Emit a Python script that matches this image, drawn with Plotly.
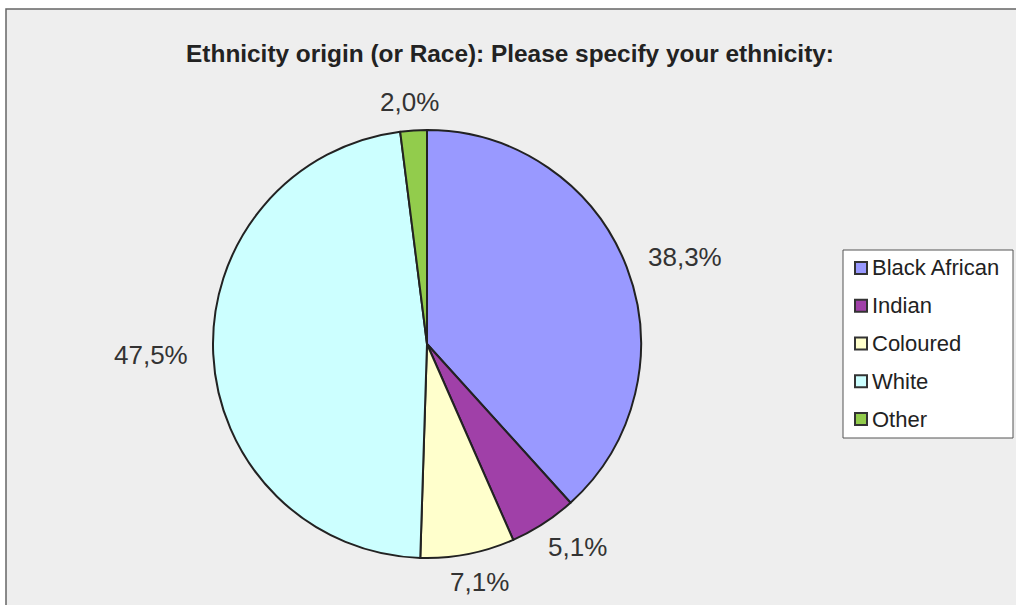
import math
import plotly.graph_objects as go

labels = ["Black African", "Indian", "Coloured", "White", "Other"]
values = [38.3, 5.1, 7.1, 47.5, 2.0]
value_text = ["38,3%", "5,1%", "7,1%", "47,5%", "2,0%"]
colors = ["#9999FF", "#A040A8", "#FFFFCC", "#CCFFFF", "#92CC4C"]
title_text = "Ethnicity origin (or Race): Please specify your ethnicity:"

W, H = 1016, 605
cx, cy, r = 427, 344, 214  # pie placement in pixels
FONT = "Liberation Sans, Arial, sans-serif"


def px(x):
    return x / W


def py(y):
    return 1 - y / H


fig = go.Figure()
fig.add_trace(go.Pie(
    labels=labels, values=values, sort=False, direction="clockwise",
    rotation=0, textinfo="none", hoverinfo="label+percent",
    marker=dict(colors=colors, line=dict(color="#222222", width=2)),
    domain=dict(x=[px(cx - r), px(cx + r)], y=[py(cy + r), py(cy - r)]),
    showlegend=False,
))

shapes = [
    dict(type="rect", xref="paper", yref="paper", x0=px(6), x1=px(W + 20),
         y0=py(9), y1=py(H + 20), fillcolor="#EEEEEE",
         line=dict(color="#666666", width=1.5), layer="below"),
]
annotations = []

# data labels derived from slice angles
total = sum(values)
cum = 0.0
for v, t in zip(values, value_text):
    mid = (cum + v / 2) / total * 2 * math.pi
    cum += v
    dx, dy = math.sin(mid), -math.cos(mid)
    lx = cx + dx * (r + 22) + dx * 40
    ly = cy + dy * (r + 20) + dy * 8
    annotations.append(dict(x=px(lx), y=py(ly), xref="paper", yref="paper",
                            text=t, showarrow=False, xanchor="center", yanchor="middle",
                            font=dict(family=FONT, size=26, color="#333333")))

# legend
lx0, ly0, lx1, ly1 = 843, 250, 1013, 438
shapes.append(dict(type="rect", xref="paper", yref="paper", x0=px(lx0), x1=px(lx1),
                   y0=py(ly0), y1=py(ly1), fillcolor="#FFFFFF",
                   line=dict(color="#555555", width=1)))
for i, (lab, col) in enumerate(zip(labels, colors)):
    yc = 268 + i * 37.75
    shapes.append(dict(type="rect", xref="paper", yref="paper", x0=px(855), x1=px(867),
                       y0=py(yc + 6), y1=py(yc - 6), fillcolor=col,
                       line=dict(color="#333333", width=2)))
    annotations.append(dict(x=px(870), y=py(yc), xref="paper", yref="paper",
                            text=lab, showarrow=False, xanchor="left", yanchor="middle",
                            font=dict(family=FONT, size=22, color="#222222")))

fig.update_layout(
    width=W, height=H, margin=dict(l=0, r=0, t=0, b=0),
    paper_bgcolor="#FFFFFF", plot_bgcolor="#FFFFFF",
    title=dict(text="<b>" + title_text + "</b>", x=0.502, xanchor="center",
               y=py(53), yanchor="middle", yref="paper",
               font=dict(family=FONT, size=24.4, color="#222222")),
    shapes=shapes, annotations=annotations,
)

fig.write_html("out.html")
